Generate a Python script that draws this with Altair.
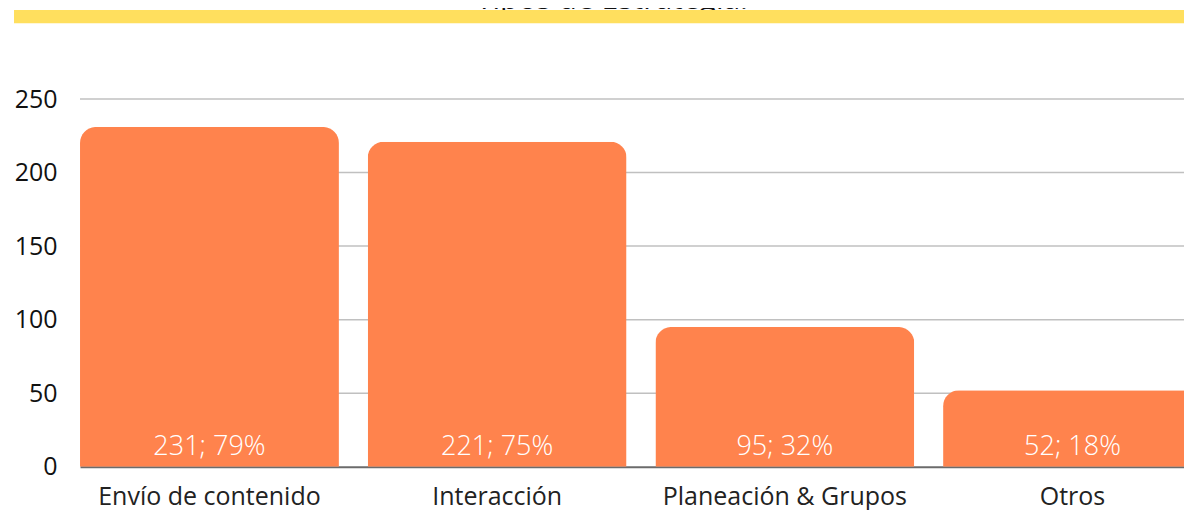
import altair as alt
import pandas as pd

categories = ["Envío de contenido", "Interacción", "Planeación & Grupos", "Otros"]
counts = [231, 221, 95, 52]
percents = [79, 75, 32, 18]
title_text = "Tipos de Estrategia:"
y_ticks = [0, 50, 100, 150, 200, 250]

df = pd.DataFrame({"cat": categories, "n": counts, "pct": percents})
df["label"] = [f"{n}; {p}%" for n, p in zip(counts, percents)]
title_df = pd.DataFrame({"t": [title_text]})
grid_df = pd.DataFrame({"v": y_ticks[1:]})

W = 1104          # svg stays within the 1176px page width
XRANGE = 1122     # band range runs past the right edge, as in the reference
H = 458.7
YMAX = 311.9
FONT = "Open Sans"

x_scale = alt.Scale(paddingInner=0.1, paddingOuter=0, range=[0, XRANGE])
x_enc = alt.X(
    "cat:N",
    sort=categories,
    scale=x_scale,
    axis=alt.Axis(
        title=None, labelAngle=0, labelFontSize=25, labelFont=FONT,
        labelColor="#222222", ticks=False, tickSize=0, labelPadding=18,
        labelLimit=600, domainColor="#6b6b6b", domainWidth=2, grid=False,
    ),
)
y_scale = alt.Scale(domain=[0, YMAX], nice=False, zero=True)
y_enc = alt.Y(
    "n:Q",
    scale=y_scale,
    axis=alt.Axis(
        title=None, values=y_ticks, labelFontSize=25, labelFont=FONT,
        labelColor="#111111", ticks=False, tickSize=0, labelPadding=23,
        domain=False, grid=False,
    ),
)

grid = alt.Chart(grid_df).mark_rule(color="#c0c0c0", strokeWidth=1.5).encode(
    y=alt.Y("v:Q"), x=alt.value(0), x2=alt.value(1122)
)

bars = alt.Chart(df).mark_bar(
    color="#FF834D", cornerRadiusTopLeft=16, cornerRadiusTopRight=16
).encode(x=x_enc, y=y_enc)

labels = alt.Chart(df).mark_text(
    color="white", fontSize=27, font=FONT, fontWeight=300,
    baseline="alphabetic", align="center", dy=-12,
).encode(
    x=alt.X("cat:N", sort=categories),
    y=alt.datum(0),
    text="label:N",
)

title_mark = alt.Chart(title_df).mark_text(
    fontSize=30, font=FONT, color="#111111", baseline="alphabetic", align="center"
).encode(
    x=alt.value(532), y=alt.value(1.5), text="t:N"
)

band = alt.Chart(title_df).mark_rect(color="#FFDF5E").encode(
    x=alt.value(-66), x2=alt.value(1122), y=alt.value(2), y2=alt.value(15.3)
)

chart = alt.layer(grid, title_mark, band, bars, labels).properties(
    width=W, height=H,
    autosize=alt.AutoSizeParams(type="none"),
    padding={"left": 72, "top": 0, "right": 0, "bottom": 44},
).configure_view(stroke=None)

chart.save("out.html", embed_options={"renderer": "svg", "actions": False})
